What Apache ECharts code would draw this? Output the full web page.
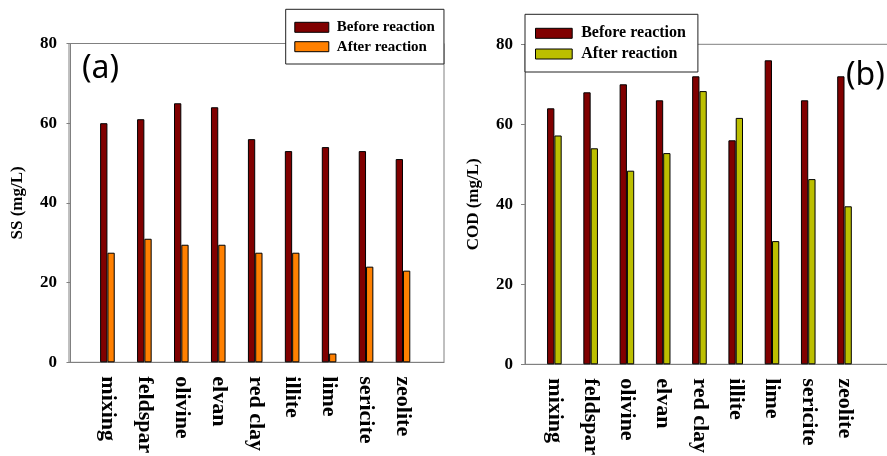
<!DOCTYPE html>
<html>
<head>
<meta charset="utf-8">
<script src="https://cdn.jsdelivr.net/npm/echarts@6/dist/echarts.min.js"></script>
<style>
  html, body { margin: 0; padding: 0; background: #fff; }
  #chart { width: 887px; height: 456px; }
</style>
</head>
<body>
<div id="chart"></div>
<script>
// Adsorbent materials tested
const categories = ['mixing', 'feldspar', 'olivine', 'elvan', 'red clay', 'illite', 'lime', 'sericite', 'zeolite'];

// (a) suspended solids, mg/L
const ssBefore = [60, 61, 65, 64, 56, 53, 54, 53, 51];
const ssAfter = [27.5, 31, 29.5, 29.5, 27.5, 27.5, 2.2, 24, 23];

// (b) chemical oxygen demand, mg/L
const codBefore = [64, 68, 70, 66, 72, 56, 76, 66, 72];
const codAfter = [57.2, 54, 48.4, 52.8, 68.3, 61.6, 30.8, 46.3, 39.5];

// y-axis ticks shared by both panels
const yTicks = [0, 20, 40, 60, 80];

const seriesNames = ['Before reaction', 'After reaction'];

const SERIF = '"Liberation Serif", "Times New Roman", serif';
const AXIS_GRAY = '#808080';
const C_BEFORE = '#800000';
const C_AFTER_SS = '#FF8000';
const C_AFTER_COD = '#BCBF00';

const positions = categories.map((c, i) => i + 1);
const toPoints = (vals) => vals.map((v, i) => [positions[i], v]);

function xAxisFor(gridIndex, min, max) {
  return {
    type: 'value',
    gridIndex: gridIndex,
    min: min,
    max: max,
    axisLine: { show: true, lineStyle: { color: AXIS_GRAY, width: 1 } },
    axisTick: { show: false },
    splitLine: { show: false },
    axisLabel: {
      customValues: positions,
      formatter: (v) => categories[Math.round(v) - 1] || '',
      rotate: -90,
      margin: 14,
      color: '#000',
      fontFamily: SERIF,
      fontWeight: 'bold',
      fontSize: 22
    }
  };
}

function yAxisFor(gridIndex, title) {
  return {
    type: 'value',
    gridIndex: gridIndex,
    min: yTicks[0],
    max: yTicks[yTicks.length - 1],
    interval: yTicks[1] - yTicks[0],
    name: title,
    nameLocation: 'middle',
    nameGap: 43,
    nameTextStyle: { color: '#000', fontFamily: SERIF, fontWeight: 'bold', fontSize: 17 },
    axisLine: { show: true, lineStyle: { color: AXIS_GRAY, width: 1 } },
    axisTick: { show: true, inside: false, length: 4, lineStyle: { color: AXIS_GRAY } },
    splitLine: { show: false },
    axisLabel: {
      margin: 12,
      color: '#000',
      fontFamily: SERIF,
      fontWeight: 'bold',
      fontSize: 17
    }
  };
}

function barSeries(name, idx, vals, color) {
  return {
    type: 'bar',
    name: name,
    xAxisIndex: idx,
    yAxisIndex: idx,
    data: toPoints(vals),
    barWidth: 7.3,
    barGap: '0%',
    itemStyle: { color: color, borderColor: '#000', borderWidth: 1 }
  };
}

const chart = echarts.init(document.getElementById('chart'), null, { renderer: 'canvas' });

const panelFont = { fontFamily: '"Noto Sans", sans-serif', fontWeight: 'normal', fontSize: 32, color: '#000' };

chart.setOption({
  backgroundColor: '#fff',
  animation: false,
  grid: [
    { left: 69, top: 43.5, width: 375, height: 318.8, show: true, borderColor: AXIS_GRAY, borderWidth: 1,
      backgroundColor: 'transparent', outerBoundsMode: 'none', containLabel: false },
    { left: 525, top: 44.3, width: 375, height: 320, show: true, borderColor: AXIS_GRAY, borderWidth: 1,
      backgroundColor: 'transparent', outerBoundsMode: 'none', containLabel: false }
  ],
  xAxis: [
    xAxisFor(0, -0.04, 10.11),
    xAxisFor(1, 0.19, 10.53)
  ],
  yAxis: [
    yAxisFor(0, 'SS (mg/L)'),
    yAxisFor(1, 'COD (mg/L)')
  ],
  legend: [
    {
      left: 285.7,
      top: 9.3,
      orient: 'vertical',
      backgroundColor: '#fff',
      borderColor: '#222',
      borderWidth: 1,
      borderRadius: 0,
      padding: [10.5, 9, 9.8, 8.6],
      itemWidth: 34,
      itemHeight: 10,
      itemGap: 4.4,
      icon: 'rect',
      itemStyle: { borderColor: '#000', borderWidth: 1 },
      textStyle: { color: '#000', fontFamily: SERIF, fontWeight: 'bold', fontSize: 15, lineHeight: 15, padding: [0, 0, 0, 3] },
      data: [
        { name: seriesNames[0], itemStyle: { color: C_BEFORE } },
        { name: seriesNames[1], itemStyle: { color: C_AFTER_SS } }
      ],
      z: 10
    },
    {
      left: 525,
      top: 14.3,
      orient: 'vertical',
      backgroundColor: '#fff',
      borderColor: '#222',
      borderWidth: 1,
      borderRadius: 0,
      padding: [11, 12, 10, 10],
      itemWidth: 36.7,
      itemHeight: 10,
      itemGap: 4.7,
      icon: 'rect',
      itemStyle: { borderColor: '#000', borderWidth: 1 },
      textStyle: { color: '#000', fontFamily: SERIF, fontWeight: 'bold', fontSize: 16, lineHeight: 16, padding: [0, 0, 0, 4] },
      data: [
        { name: seriesNames[0], itemStyle: { color: C_BEFORE } },
        { name: seriesNames[1], itemStyle: { color: C_AFTER_COD } }
      ],
      z: 10
    }
  ],
  title: [
    { text: '(a)', left: 82, top: 53, padding: 0, textStyle: panelFont },
    { text: '(b)', left: 846, top: 60, padding: 0, textStyle: panelFont }
  ],
  series: [
    barSeries(seriesNames[0], 0, ssBefore, C_BEFORE),
    barSeries(seriesNames[1], 0, ssAfter, C_AFTER_SS),
    barSeries(seriesNames[0], 1, codBefore, C_BEFORE),
    barSeries(seriesNames[1], 1, codAfter, C_AFTER_COD)
  ]
});
</script>
</body>
</html>
